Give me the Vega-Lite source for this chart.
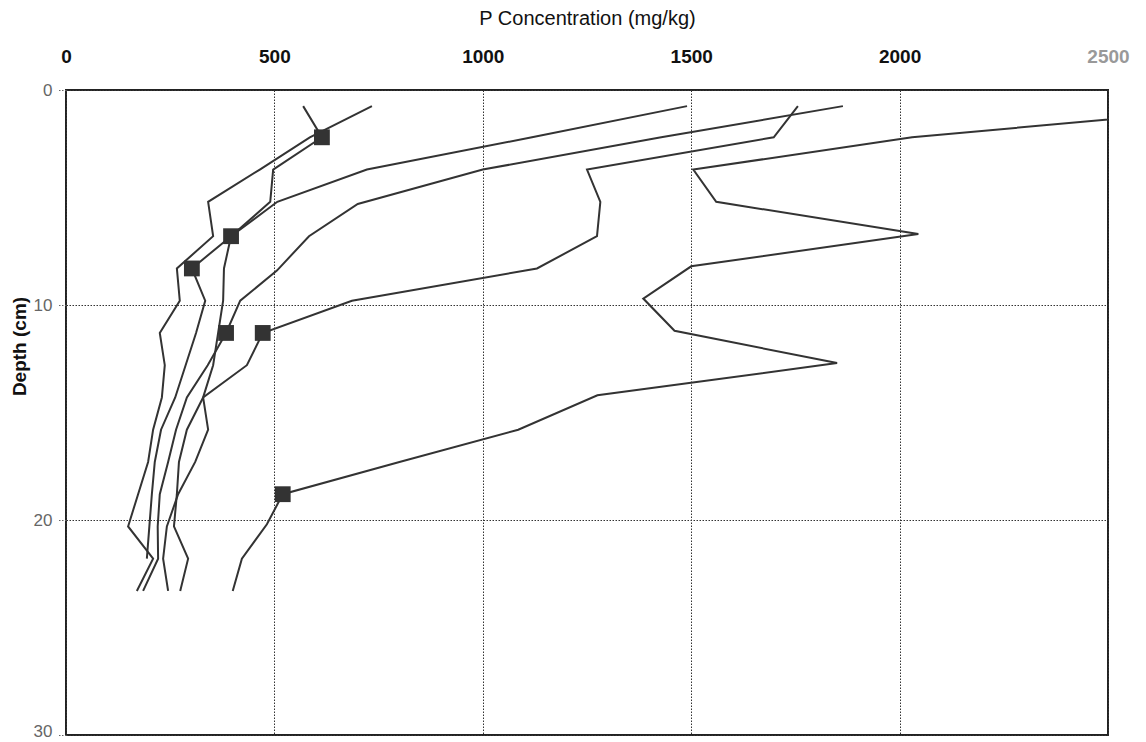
{
  "$schema": "https://vega.github.io/schema/vega-lite/v6.json",
  "width": 1042,
  "height": 645,
  "autosize": {"type": "none"},
  "padding": {"left": 66, "top": 90, "right": 38, "bottom": 7},
  "background": "white",
  "config": {
    "view": {"stroke": "#222", "strokeWidth": 2},
    "font": "Liberation Sans"
  },
  "datasets": {
    "profiles": [
      {"s": "A", "d": 0.75, "c": 2850}, {"s": "A", "d": 2.2, "c": 2030}, {"s": "A", "d": 3.7, "c": 1505}, {"s": "A", "d": 5.2, "c": 1560}, {"s": "A", "d": 6.7, "c": 2045}, {"s": "A", "d": 8.2, "c": 1500}, {"s": "A", "d": 9.7, "c": 1385}, {"s": "A", "d": 11.2, "c": 1460}, {"s": "A", "d": 12.7, "c": 1850}, {"s": "A", "d": 14.2, "c": 1275}, {"s": "A", "d": 15.8, "c": 1085}, {"s": "A", "d": 17.3, "c": 800}, {"s": "A", "d": 18.8, "c": 520}, {"s": "A", "d": 20.2, "c": 482}, {"s": "A", "d": 21.8, "c": 422}, {"s": "A", "d": 23.3, "c": 400},
      {"s": "C", "d": 0.75, "c": 1756}, {"s": "C", "d": 2.2, "c": 1698}, {"s": "C", "d": 3.7, "c": 1250}, {"s": "C", "d": 5.2, "c": 1282}, {"s": "C", "d": 6.8, "c": 1274}, {"s": "C", "d": 8.3, "c": 1130}, {"s": "C", "d": 9.8, "c": 686}, {"s": "C", "d": 11.3, "c": 472}, {"s": "C", "d": 12.8, "c": 434}, {"s": "C", "d": 14.3, "c": 329}, {"s": "C", "d": 15.8, "c": 290}, {"s": "C", "d": 17.3, "c": 271}, {"s": "C", "d": 18.8, "c": 266}, {"s": "C", "d": 20.3, "c": 259}, {"s": "C", "d": 21.8, "c": 293}, {"s": "C", "d": 23.3, "c": 274},
      {"s": "D", "d": 0.75, "c": 1864}, {"s": "D", "d": 2.2, "c": 1428}, {"s": "D", "d": 3.7, "c": 1000}, {"s": "D", "d": 5.3, "c": 700}, {"s": "D", "d": 6.8, "c": 583}, {"s": "D", "d": 8.4, "c": 506}, {"s": "D", "d": 9.8, "c": 418}, {"s": "D", "d": 11.3, "c": 384}, {"s": "D", "d": 12.8, "c": 340}, {"s": "D", "d": 14.3, "c": 290}, {"s": "D", "d": 15.8, "c": 264}, {"s": "D", "d": 17.3, "c": 245}, {"s": "D", "d": 18.8, "c": 225}, {"s": "D", "d": 20.3, "c": 220}, {"s": "D", "d": 21.8, "c": 221}, {"s": "D", "d": 23.3, "c": 185},
      {"s": "E", "d": 0.75, "c": 1490}, {"s": "E", "d": 2.2, "c": 1118}, {"s": "E", "d": 3.7, "c": 722}, {"s": "E", "d": 5.2, "c": 507}, {"s": "E", "d": 6.8, "c": 396}, {"s": "E", "d": 8.3, "c": 379}, {"s": "E", "d": 9.8, "c": 377}, {"s": "E", "d": 11.3, "c": 365}, {"s": "E", "d": 12.8, "c": 353}, {"s": "E", "d": 14.3, "c": 329}, {"s": "E", "d": 15.8, "c": 341}, {"s": "E", "d": 17.3, "c": 310}, {"s": "E", "d": 18.8, "c": 269}, {"s": "E", "d": 20.3, "c": 242}, {"s": "E", "d": 21.8, "c": 233}, {"s": "E", "d": 23.3, "c": 245},
      {"s": "F", "d": 0.75, "c": 569}, {"s": "F", "d": 2.2, "c": 614}, {"s": "F", "d": 3.7, "c": 497}, {"s": "F", "d": 5.2, "c": 490}, {"s": "F", "d": 6.8, "c": 396}, {"s": "F", "d": 8.3, "c": 302}, {"s": "F", "d": 9.8, "c": 334}, {"s": "F", "d": 11.3, "c": 312}, {"s": "F", "d": 12.8, "c": 287}, {"s": "F", "d": 14.3, "c": 262}, {"s": "F", "d": 15.8, "c": 228}, {"s": "F", "d": 17.3, "c": 213}, {"s": "F", "d": 18.8, "c": 206}, {"s": "F", "d": 20.3, "c": 200}, {"s": "F", "d": 21.8, "c": 194},
      {"s": "G", "d": 0.75, "c": 734}, {"s": "G", "d": 2.2, "c": 585}, {"s": "G", "d": 3.7, "c": 465}, {"s": "G", "d": 5.2, "c": 341}, {"s": "G", "d": 6.8, "c": 353}, {"s": "G", "d": 8.3, "c": 266}, {"s": "G", "d": 9.8, "c": 273}, {"s": "G", "d": 11.3, "c": 225}, {"s": "G", "d": 12.8, "c": 237}, {"s": "G", "d": 14.3, "c": 230}, {"s": "G", "d": 15.8, "c": 209}, {"s": "G", "d": 17.3, "c": 197}, {"s": "G", "d": 18.8, "c": 173}, {"s": "G", "d": 20.3, "c": 149}, {"s": "G", "d": 21.8, "c": 209}, {"s": "G", "d": 23.3, "c": 170}
    ],
    "markers": [
      {"d": 2.2, "c": 614}, {"d": 6.8, "c": 396}, {"d": 8.3, "c": 302}, {"d": 11.3, "c": 384}, {"d": 11.3, "c": 472}, {"d": 18.8, "c": 520}
    ]
  },
  "layer": [
    {
      "data": {"name": "profiles"},
      "mark": {"type": "line", "color": "#333", "strokeWidth": 2, "clip": true},
      "encoding": {
        "x": {
          "field": "c", "type": "quantitative",
          "scale": {"domain": [0, 2500], "nice": false},
          "axis": {
            "orient": "top", "values": [0, 500, 1000, 1500, 2000, 2500], "format": "d",
            "title": "P Concentration (mg/kg)", "titleFontSize": 20, "titleFontWeight": "normal", "titleColor": "#111", "titlePadding": 19,
            "labelFontSize": 19, "labelFontWeight": "bold", "labelPadding": 24,
            "labelColor": {"condition": {"test": "datum.value == 2500", "value": "#999"}, "value": "#111"},
            "grid": true, "gridDash": [1.5, 1.5], "gridColor": "#333", "gridWidth": 1,
            "ticks": false, "domain": false, "labelFlush": false
          }
        },
        "y": {
          "field": "d", "type": "quantitative",
          "scale": {"domain": [0, 30], "reverse": true, "nice": false},
          "axis": {
            "values": [0, 10, 20, 30],
            "title": "Depth (cm)", "titleFontSize": 19, "titleFontWeight": "bold", "titleColor": "#111", "titleY": 256, "titleX": -37,
            "labelFontSize": 17, "labelColor": "#666", "labelPadding": 6,
            "labelOffset": {"condition": {"test": "datum.value == 30", "value": -4}, "value": 0},
            "grid": true, "gridDash": [1.5, 1.5], "gridColor": "#333", "gridWidth": 1,
            "ticks": true, "tickSize": 8, "tickDash": [1.5, 1.5], "tickColor": "#666", "domain": false
          }
        },
        "detail": {"field": "s"},
        "order": {"field": "d"}
      }
    },
    {
      "data": {"name": "markers"},
      "mark": {"type": "square", "color": "#333", "opacity": 1, "size": 250},
      "encoding": {
        "x": {"field": "c", "type": "quantitative"},
        "y": {"field": "d", "type": "quantitative"}
      }
    }
  ]
}
